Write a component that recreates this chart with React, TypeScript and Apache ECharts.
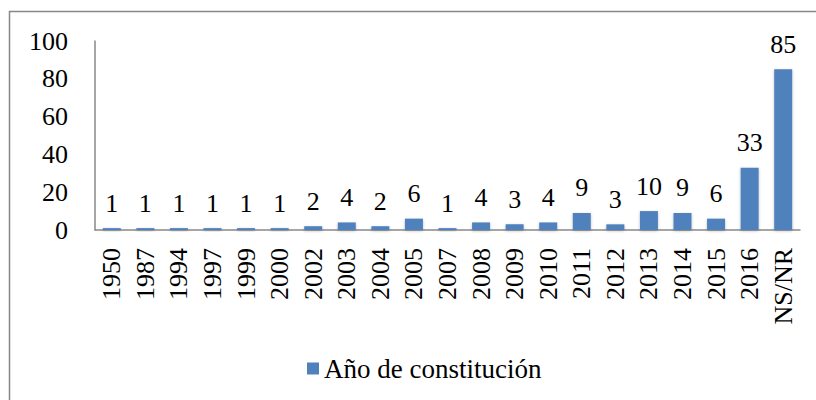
import React, { useEffect, useRef } from "react";
import * as echarts from "echarts";

const categories = ["1950","1987","1994","1997","1999","2000","2002","2003","2004","2005","2007","2008","2009","2010","2011","2012","2013","2014","2015","2016","NS/NR"];
const values = [1,1,1,1,1,1,2,4,2,6,1,4,3,4,9,3,10,9,6,33,85];
const seriesName = "Año de constitución";
const yTicks = { min: 0, max: 100, interval: 20 };

const FONT = "'Liberation Serif', 'DejaVu Serif', serif";

export default function App() {
  const ref = useRef<HTMLDivElement>(null);
  useEffect(() => {
    if (!ref.current) return;
    const chart = echarts.init(ref.current, undefined, { renderer: "svg" });
    chart.setOption({
      animation: false,
      backgroundColor: "#ffffff",
      textStyle: { fontFamily: FONT },
      grid: { left: 95, right: 16, top: 41, bottom: 170, containLabel: false },
      legend: {
        data: [seriesName],
        left: 302,
        top: 350,
        icon: "rect",
        itemWidth: 12,
        itemHeight: 12,
        textStyle: { fontFamily: FONT, fontSize: 27, color: "#000" },
      },
      xAxis: {
        type: "category",
        data: categories,
        axisLine: { show: true, lineStyle: { color: "#898989", width: 1.5 } },
        axisTick: { show: false },
        axisLabel: { rotate: 90, margin: 18, fontSize: 26, fontFamily: FONT, color: "#000", interval: 0 },
      },
      yAxis: {
        type: "value",
        min: yTicks.min,
        max: yTicks.max,
        interval: yTicks.interval,
        axisLine: { show: true, lineStyle: { color: "#898989", width: 1.5 } },
        axisTick: { show: false },
        splitLine: { show: false },
        axisLabel: { margin: 27, fontSize: 26, fontFamily: FONT, color: "#000" },
      },
      series: [
        {
          name: seriesName,
          type: "bar",
          data: values,
          barWidth: 18,
          itemStyle: { color: "#4F81BD", shadowBlur: 3, shadowColor: "rgba(0,0,0,0.25)", shadowOffsetX: 0, shadowOffsetY: 1 },
          label: { show: true, position: "top", distance: 12, fontSize: 26, fontFamily: FONT, color: "#000" },
        },
      ],
      graphic: [
        {
          type: "rect",
          shape: { x: 9.5, y: 11.5, width: 900, height: 500 },
          style: { fill: "none", stroke: "#878787", lineWidth: 1.5 },
          silent: true,
        },
      ],
    });
    return () => chart.dispose();
  }, []);
  return <div ref={ref} style={{ position: "fixed", left: 0, top: 0, width: 816, height: 400 }} />;
}
